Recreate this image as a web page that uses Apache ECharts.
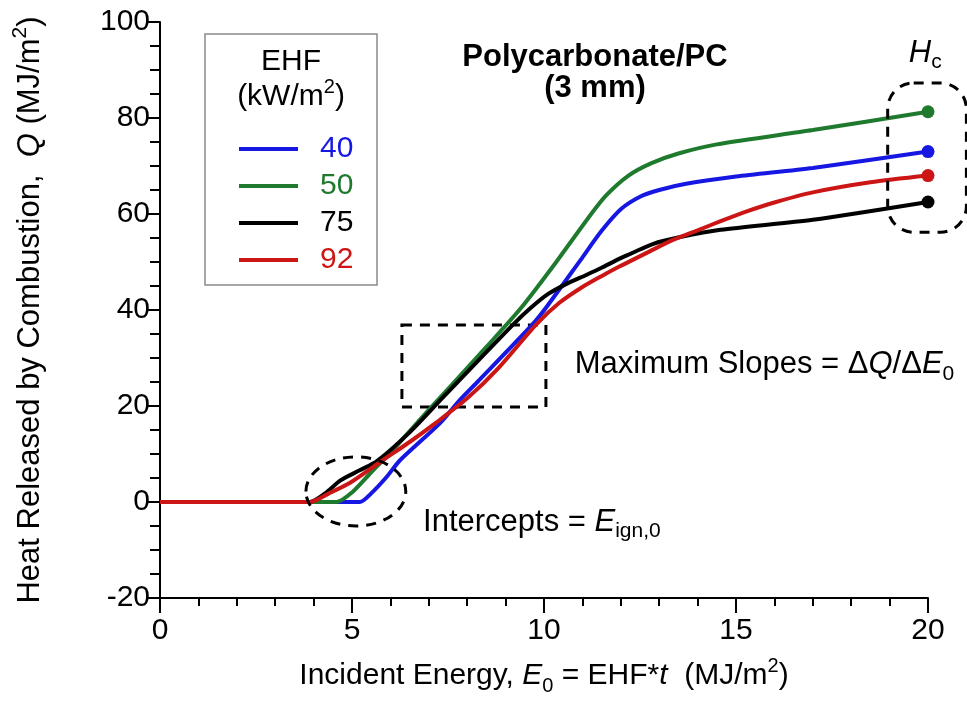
<!DOCTYPE html>
<html>
<head>
<meta charset="utf-8">
<script src="https://cdn.jsdelivr.net/npm/echarts@6/dist/echarts.min.js"></script>
<style>
  html, body { margin: 0; padding: 0; background: #fff; }
  #chart { width: 967px; height: 702px; }
</style>
</head>
<body>
<div id="chart"></div>
<script>
const FONT = '"Liberation Sans", Arial, Helvetica, sans-serif'

// EHF levels (kW/m2) and their colours
const ehfNames = ['40', '50', '75', '92']
const ehfColors = ['#1717e3', '#1f7a2e', '#000000', '#cc1616']

// incident energy E0 (MJ/m2) / heat released Q (MJ/m2)
const e40 = [0, 5.2, 5.5, 5.9, 6.25, 7.3, 7.8, 8.3, 9.7, 10.1, 10.95, 11.5, 12.0, 12.5, 13.0, 13.7, 15, 17, 20]
const q40 = [0, 0, 1.8, 5.2, 8.7, 16.5, 21.2, 25.3, 37, 41, 50.4, 56.5, 61, 63.6, 65, 66.3, 67.8, 69.6, 73]

const e50 = [0, 4.6, 5.0, 5.5, 6.0, 7.0, 7.6, 8.5, 9.4, 10.3, 11.1, 11.6, 12.2, 12.8, 13.5, 14.5, 17, 20]
const q50 = [0, 0, 2, 6.2, 10.3, 19.2, 24.4, 32.3, 40.4, 49.8, 58.6, 63.7, 68, 70.6, 72.6, 74.5, 77.5, 81.3]

const e75 = [0, 3.9, 4.3, 4.7, 5.2, 5.65, 6.5, 7.3, 7.8, 9.2, 9.65, 10.1, 10.6, 11.1, 11.5, 12.0, 12.85, 13.55, 14.6, 17, 20]
const q75 = [0, 0, 1.8, 4.5, 6.6, 8.5, 14.5, 21.2, 25.4, 37, 40.4, 43.3, 45.5, 47.3, 48.8, 50.8, 53.8, 55.2, 56.7, 58.8, 62.5]

const e92 = [0, 3.9, 4.4, 4.95, 5.8, 6.5, 7.2, 8.0, 8.8, 9.8, 10.4, 11.0, 11.46, 12.0, 12.7, 13.3, 14.0, 14.6, 15.3, 16, 17, 18.5, 20]
const q92 = [0, 0, 1.8, 4, 8.7, 12.5, 16.6, 21.6, 27.8, 37, 41.5, 44.8, 46.9, 49.2, 52, 54.4, 56.6, 58.5, 60.6, 62.4, 64.5, 66.6, 68]

const xTicks = [0, 5, 10, 15, 20]
const yTicks = [-20, 0, 20, 40, 60, 80, 100]

const curves = [[e40, q40], [e50, q50], [e75, q75], [e92, q92]]

const rich = (size) => ({
  t: { fontSize: size, fontFamily: FONT, color: '#000', lineHeight: 40 },
  i: { fontSize: size, fontFamily: FONT, color: '#000', fontStyle: 'italic', lineHeight: 40 },
  s: { fontSize: Math.round(size * 0.68), fontFamily: FONT, color: '#000', lineHeight: 20, verticalAlign: 'bottom' },
  p: { fontSize: Math.round(size * 0.68), fontFamily: FONT, color: '#000', lineHeight: 27, verticalAlign: 'top' }
})

const chart = echarts.init(document.getElementById('chart'))

const lineSeries = curves.map(([xs, ys], k) => ({
  name: ehfNames[k],
  type: 'line',
  data: xs.map((x, i) => [x, ys[i]]),
  showSymbol: false,
  smooth: 0.25,
  lineStyle: { color: ehfColors[k], width: 4 },
  itemStyle: { color: ehfColors[k] },
  z: 3 + k
}))

// max-slope box
lineSeries[2].markArea = {
  silent: true,
  itemStyle: { color: 'rgba(0,0,0,0)', borderColor: '#000', borderWidth: 3, borderType: [10, 8] },
  data: [[{ coord: [6.3, 36.9] }, { coord: [10.05, 19.8] }]]
}

const endSeries = {
  type: 'scatter',
  silent: true,
  symbolSize: 13,
  data: curves.map(([xs, ys], k) => ({
    value: [xs[xs.length - 1], ys[ys.length - 1]],
    itemStyle: { color: ehfColors[k], opacity: 1 }
  })),
  z: 10
}

chart.setOption({
  animation: false,
  backgroundColor: '#fff',
  textStyle: { fontFamily: FONT },
  grid: { left: 160, right: 39, top: 22, bottom: 104 },
  title: {
    text: 'Polycarbonate/PC\n(3 mm)',
    left: 590,
    top: 37,
    textAlign: 'center',
    textStyle: { fontSize: 31, fontWeight: 'bold', fontFamily: FONT, color: '#000', lineHeight: 31 }
  },
  legend: {
    orient: 'vertical',
    left: 234,
    top: 129,
    itemWidth: 59,
    itemHeight: 4,
    itemGap: 7,
    icon: 'rect',
    selectedMode: false,
    textStyle: { fontSize: 30, fontFamily: FONT, padding: [0, 0, 0, 17] },
    data: ehfNames.map((n, k) => ({ name: n, textStyle: { color: ehfColors[k] } }))
  },
  xAxis: {
    type: 'value',
    min: xTicks[0],
    max: xTicks[xTicks.length - 1],
    interval: 5,
    name: '{t|Incident Energy, }{i|E}{s|0}{t| = EHF*}{i|t}{t|  (MJ/m}{p|2}{t|)}',
    nameLocation: 'middle',
    nameGap: 58,
    nameTextStyle: { rich: rich(30) },
    axisLine: { onZero: false, lineStyle: { color: '#000', width: 2 } },
    axisTick: { length: 15, lineStyle: { color: '#000', width: 2 } },
    minorTick: { show: true, splitNumber: 5, length: 8, lineStyle: { color: '#000', width: 2 } },
    splitLine: { show: false },
    axisLabel: { fontSize: 30, color: '#000', margin: 18, fontFamily: FONT }
  },
  yAxis: {
    type: 'value',
    min: yTicks[0],
    max: yTicks[yTicks.length - 1],
    interval: 20,
    name: '{t|Heat Released by Combustion,  }{i|Q}{t| (MJ/m}{p|2}{t|)}',
    nameLocation: 'middle',
    nameRotate: 90,
    nameGap: 110,
    nameTextStyle: { rich: rich(31) },
    axisLine: { show: true, onZero: false, lineStyle: { color: '#000', width: 2 } },
    axisTick: { length: 14, lineStyle: { color: '#000', width: 2 } },
    minorTick: { show: true, splitNumber: 4, length: 10, lineStyle: { color: '#000', width: 2 } },
    splitLine: { show: false },
    axisLabel: { fontSize: 30, color: '#000', margin: 10, fontFamily: FONT }
  },
  series: [...lineSeries, endSeries]
})

// annotations placed through the axes
const px = (x, y) => chart.convertToPixel({ gridIndex: 0 }, [x, y])
const dash = { fill: 'none', stroke: '#000', lineWidth: 3, lineDash: [10, 8] }

const ellA = px(3.8, 9.4), ellB = px(6.4, -5)
const hcA = px(18.95, 87.3), hcB = px(21, 56.2)
const slopeAt = px(10.8, 28.6)
const interAt = px(6.85, -4.2)
const hcText = px(19.5, 93.5)

chart.setOption({
  graphic: [
    {
      type: 'rect',
      shape: { x: 205, y: 34, width: 172, height: 251 },
      style: { fill: 'none', stroke: '#8a8a8a', lineWidth: 1.5 },
      z: 1
    },
    {
      type: 'text', x: 291, y: 62,
      style: { text: 'EHF', font: '30px ' + FONT, fill: '#000', align: 'center', verticalAlign: 'middle' }
    },
    {
      type: 'text', x: 291, y: 97,
      style: { text: '{t|(kW/m}{p|2}{t|)}', rich: rich(30), align: 'center', verticalAlign: 'middle' }
    },
    {
      type: 'ellipse',
      shape: { cx: (ellA[0] + ellB[0]) / 2, cy: (ellA[1] + ellB[1]) / 2, rx: (ellB[0] - ellA[0]) / 2, ry: (ellB[1] - ellA[1]) / 2 },
      style: dash,
      z: 20
    },
    {
      type: 'rect',
      shape: { x: hcA[0], y: hcA[1], width: hcB[0] - hcA[0], height: hcB[1] - hcA[1], r: 26 },
      style: dash,
      z: 20
    },
    {
      type: 'text', x: slopeAt[0], y: slopeAt[1],
      style: { text: '{t|Maximum Slopes = Δ}{i|Q}{t|/Δ}{i|E}{s|0}', rich: rich(31), align: 'left', verticalAlign: 'middle' }
    },
    {
      type: 'text', x: interAt[0], y: interAt[1],
      style: { text: '{t|Intercepts = }{i|E}{s|ign,0}', rich: rich(31), align: 'left', verticalAlign: 'middle' }
    },
    {
      type: 'text', x: hcText[0], y: hcText[1],
      style: { text: '{i|H}{s|c}', rich: rich(31), align: 'left', verticalAlign: 'middle' }
    }
  ]
})
</script>
</body>
</html>
